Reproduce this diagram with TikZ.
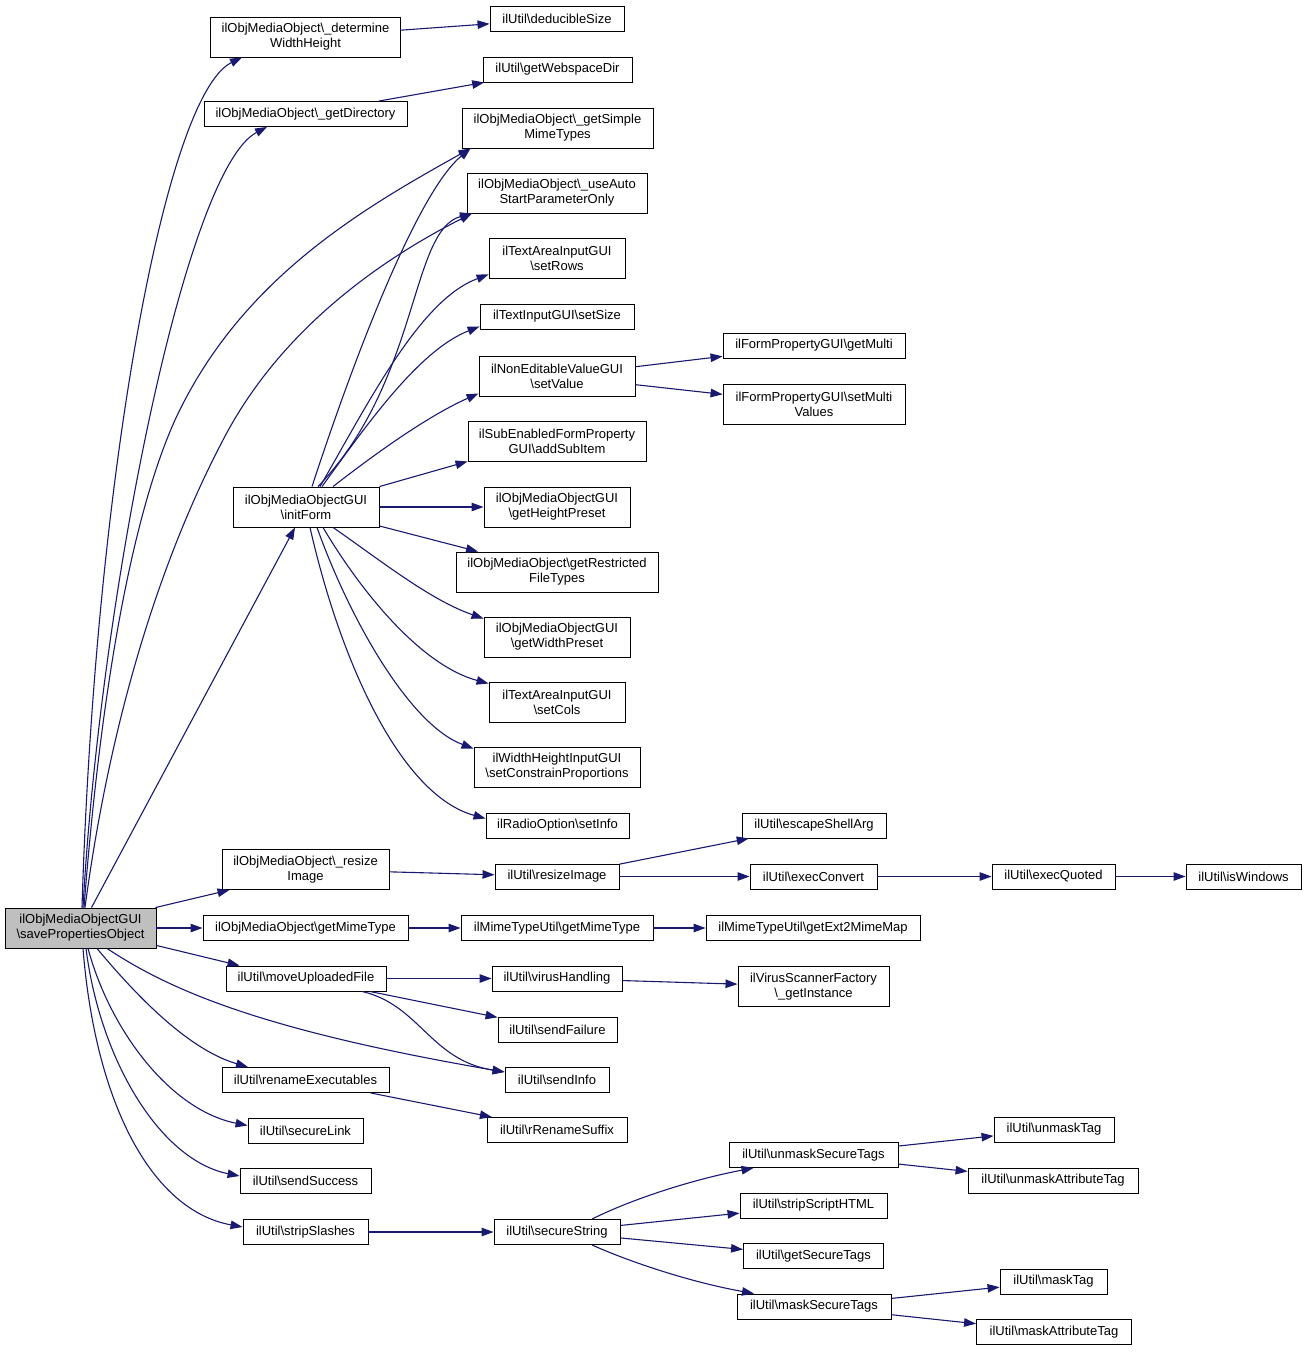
\documentclass[tikz,border=0pt]{standalone}
\usepackage{fontspec}
\setmainfont{Liberation Sans}
\usetikzlibrary{arrows.meta}

\definecolor{edgeblue}{HTML}{191970}
\definecolor{maingray}{HTML}{BFBFBF}
\newcommand{\bsl}{\textbackslash}

\tikzset{
  fn/.style={draw=black, line width=0.9pt, rectangle, align=center, inner sep=2pt,
    minimum height=25pt, font=\fontsize{13}{15}\selectfont},
  fnn/.style={fn, minimum height=40pt},
  call/.style={draw=edgeblue, line width=1.1pt, -{Triangle[length=12pt,width=8.5pt]}},
}

\begin{document}
\begin{tikzpicture}[x=1pt, y=-1pt]
  \useasboundingbox (0,0) rectangle (1308,1352);

  % caller
  \node[fnn, fill=maingray, minimum width=151pt] (save) at (80.5,928) {ilObjMediaObjectGUI\\\bsl{}savePropertiesObject};

  % first column
  \node[fnn, minimum width=190pt] (detWH) at (305.5,37) {ilObjMediaObject\bsl{}\_determine\\WidthHeight};
  \node[fn, minimum width=203pt] (getDir) at (305.5,114) {ilObjMediaObject\bsl{}\_getDirectory};
  \node[fnn, minimum width=146pt] (initForm) at (306,507) {ilObjMediaObjectGUI\\\bsl{}initForm};
  \node[fnn, minimum width=167pt] (resizeObj) at (305.5,869.5) {ilObjMediaObject\bsl{}\_resize\\Image};
  \node[fn, minimum width=205pt] (objMime) at (305.5,928) {ilObjMediaObject\bsl{}getMimeType};
  \node[fn, minimum width=160pt] (moveUp) at (306,978.5) {ilUtil\bsl{}moveUploadedFile};
  \node[fn, minimum width=167pt] (renameEx) at (305.5,1080) {ilUtil\bsl{}renameExecutables};
  \node[fn, minimum width=115pt] (secLink) at (305.5,1130.5) {ilUtil\bsl{}secureLink};
  \node[fn, minimum width=131pt] (sendSucc) at (305.5,1181) {ilUtil\bsl{}sendSuccess};
  \node[fn, minimum width=125pt] (stripSl) at (305.5,1232) {ilUtil\bsl{}stripSlashes};

  % second column
  \node[fn, minimum width=134pt] (deducible) at (557,19) {ilUtil\bsl{}deducibleSize};
  \node[fn, minimum width=149pt] (webspace) at (557.5,69.5) {ilUtil\bsl{}getWebspaceDir};
  \node[fnn, minimum width=191pt] (simpleMime) at (557.5,128) {ilObjMediaObject\bsl{}\_getSimple\\MimeTypes};
  \node[fnn, minimum width=180pt] (useAuto) at (557,193) {ilObjMediaObject\bsl{}\_useAuto\\StartParameterOnly};
  \node[fnn, minimum width=136pt] (setRows) at (557,258) {ilTextAreaInputGUI\\\bsl{}setRows};
  \node[fn, minimum width=154pt] (setSize) at (557,316.5) {ilTextInputGUI\bsl{}setSize};
  \node[fnn, minimum width=156pt] (setValue) at (557,376) {ilNonEditableValueGUI\\\bsl{}setValue};
  \node[fnn, minimum width=178pt] (addSub) at (557,441) {ilSubEnabledFormProperty\\GUI\bsl{}addSubItem};
  \node[fnn, minimum width=146pt] (heightPreset) at (557,507) {ilObjMediaObjectGUI\\\bsl{}getHeightPreset};
  \node[fnn, minimum width=202pt] (restricted) at (557,572) {ilObjMediaObject\bsl{}getRestricted\\FileTypes};
  \node[fnn, minimum width=146pt] (widthPreset) at (557,637) {ilObjMediaObjectGUI\\\bsl{}getWidthPreset};
  \node[fnn, minimum width=136pt] (setCols) at (557,702) {ilTextAreaInputGUI\\\bsl{}setCols};
  \node[fnn, minimum width=166pt] (constrain) at (557,767) {ilWidthHeightInputGUI\\\bsl{}setConstrainProportions};
  \node[fn, minimum width=143pt] (setInfo) at (557.5,825.5) {ilRadioOption\bsl{}setInfo};
  \node[fn, minimum width=124pt] (resizeImg) at (557,876.5) {ilUtil\bsl{}resizeImage};
  \node[fn, minimum width=192pt] (utilMime) at (557,928) {ilMimeTypeUtil\bsl{}getMimeType};
  \node[fn, minimum width=130pt] (virus) at (557,978.5) {ilUtil\bsl{}virusHandling};
  \node[fn, minimum width=119pt] (sendFail) at (557.5,1029.5) {ilUtil\bsl{}sendFailure};
  \node[fn, minimum width=104pt] (sendInfo) at (557,1080) {ilUtil\bsl{}sendInfo};
  \node[fn, minimum width=140pt] (rRename) at (557,1130) {ilUtil\bsl{}rRenameSuffix};
  \node[fn, minimum width=126pt] (secStr) at (557,1232) {ilUtil\bsl{}secureString};

  % third column
  \node[fn, minimum width=182pt] (getMulti) at (814,345.5) {ilFormPropertyGUI\bsl{}getMulti};
  \node[fnn, minimum width=182pt] (setMulti) at (814,404.5) {ilFormPropertyGUI\bsl{}setMulti\\Values};
  \node[fn, minimum width=144pt] (escape) at (814,825.5) {ilUtil\bsl{}escapeShellArg};
  \node[fn, minimum width=127pt] (execConv) at (813.5,876.5) {ilUtil\bsl{}execConvert};
  \node[fn, minimum width=214pt] (ext2Mime) at (813,928) {ilMimeTypeUtil\bsl{}getExt2MimeMap};
  \node[fnn, minimum width=151pt] (scanner) at (813.5,986.5) {ilVirusScannerFactory\\\bsl{}\_getInstance};
  \node[fn, minimum width=169pt] (unmaskSec) at (813.5,1155) {ilUtil\bsl{}unmaskSecureTags};
  \node[fn, minimum width=147pt] (stripHTML) at (813.5,1205.5) {ilUtil\bsl{}stripScriptHTML};
  \node[fn, minimum width=140pt] (getSec) at (813.5,1256) {ilUtil\bsl{}getSecureTags};
  \node[fn, minimum width=154pt] (maskSec) at (814,1306.5) {ilUtil\bsl{}maskSecureTags};

  % fourth and fifth column
  \node[fn, minimum width=123pt] (execQuot) at (1053.5,876.5) {ilUtil\bsl{}execQuoted};
  \node[fn, minimum width=115pt] (isWin) at (1243.5,876.5) {ilUtil\bsl{}isWindows};
  \node[fn, minimum width=120pt] (unmaskTag) at (1054,1129.5) {ilUtil\bsl{}unmaskTag};
  \node[fn, minimum width=170pt] (unmaskAttr) at (1053,1180.5) {ilUtil\bsl{}unmaskAttributeTag};
  \node[fn, minimum width=107pt] (maskTag) at (1053.5,1281.5) {ilUtil\bsl{}maskTag};
  \node[fn, minimum width=155pt] (maskAttr) at (1054,1332) {ilUtil\bsl{}maskAttributeTag};

  % calls of savePropertiesObject
  \draw[call] ([xshift=1.5pt]save.north) .. controls (95,480) and (165,95) .. ([xshift=-63.5pt]detWH.south);
  \draw[call] ([xshift=2.5pt]save.north) .. controls (100,600) and (185,170) .. ([xshift=-38.5pt]getDir.south);
  \draw[call] ([xshift=3.5pt]save.north) .. controls (100,700) and (130,520) .. (175,420)
              .. controls (240,280) and (360,210) .. ([xshift=-87pt]simpleMime.south);
  \draw[call] ([xshift=4.5pt]save.north) .. controls (110,720) and (160,560) .. (223,440)
              .. controls (280,330) and (380,260) .. ([xshift=-85pt]useAuto.south);
  \draw[call] ([xshift=11pt]save.north) -- ([xshift=-11pt]initForm.south);
  \draw[call] ([xshift=-1pt]save.north east) -- ([xshift=8pt]resizeObj.south west);
  \draw[call] (save.east) -- (objMime.west);
  \draw[call] ([yshift=3pt]save.south east) -- ([xshift=14pt]moveUp.north west);
  \draw[call] ([xshift=26.5pt]save.south) .. controls (170,990) and (260,1030) .. ([yshift=8pt]sendInfo.west);
  \draw[call] ([xshift=16.5pt]save.south) .. controls (140,1000) and (190,1050) .. ([xshift=-57.5pt]renameEx.north);
  \draw[call] ([xshift=7.5pt]save.south) .. controls (110,1030) and (170,1110) .. ([yshift=5pt]secLink.west);
  \draw[call] ([xshift=5.5pt]save.south) .. controls (100,1060) and (160,1160) .. ([yshift=5pt]sendSucc.west);
  \draw[call] ([xshift=2.5pt]save.south) .. controls (95,1100) and (150,1210) .. ([yshift=5pt]stripSl.west);

  % calls of initForm
  \draw[call] ([xshift=6pt]initForm.north) .. controls (360,340) and (420,190) .. ([xshift=-87pt]simpleMime.south);
  \draw[call] ([xshift=12pt]initForm.north) .. controls (420,380) and (410,230) .. ([xshift=-85pt]useAuto.south);
  \draw[call] ([xshift=14pt]initForm.north) .. controls (370,400) and (420,300) .. ([yshift=4pt]setRows.south west);
  \draw[call] ([xshift=16pt]initForm.north) .. controls (370,420) and (420,350) .. ([yshift=3pt]setSize.south west);
  \draw[call] ([xshift=27pt]initForm.north) .. controls (380,450) and (430,415) .. ([yshift=3pt]setValue.south west);
  \draw[call] (initForm.north east) -- (addSub.south west);
  \draw[call] (initForm.east) -- (heightPreset.west);
  \draw[call] (initForm) -- (restricted);
  \draw[call] ([xshift=27pt]initForm.south) .. controls (380,560) and (430,600) .. ([yshift=-2pt]widthPreset.north west);
  \draw[call] ([xshift=17pt]initForm.south) .. controls (360,590) and (420,665) .. ([yshift=-2pt]setCols.north west);
  \draw[call] ([xshift=11pt]initForm.south) .. controls (350,620) and (410,725) .. ([yshift=-2pt]constrain.north west);
  \draw[call] ([xshift=4pt]initForm.south) .. controls (340,660) and (400,795) .. ([yshift=7pt]setInfo.west);

  % remaining calls
  \draw[call] (detWH) -- (deducible);
  \draw[call] (getDir) -- (webspace);
  \draw[call] (setValue) -- (getMulti);
  \draw[call] (setValue) -- (setMulti);
  \draw[call] (resizeObj) -- (resizeImg);
  \draw[call] (resizeImg) -- (escape);
  \draw[call] (resizeImg) -- (execConv);
  \draw[call] (execConv) -- (execQuot);
  \draw[call] (execQuot) -- (isWin);
  \draw[call] (objMime) -- (utilMime);
  \draw[call] (utilMime) -- (ext2Mime);
  \draw[call] (moveUp) -- (virus);
  \draw[call] (virus) -- (scanner);
  \draw[call] (moveUp) -- (sendFail);
  \draw[call] ([xshift=56pt]moveUp.south) .. controls (420,1005) and (430,1060) .. ([yshift=8pt]sendInfo.west);
  \draw[call] (renameEx) -- (rRename);
  \draw[call] (stripSl) -- (secStr);
  \draw[call] ([xshift=35pt]secStr.north) .. controls (630,1200) and (690,1180) .. ([xshift=-60pt]unmaskSec.south);
  \draw[call] (secStr) -- (stripHTML);
  \draw[call] (secStr) -- (getSec);
  \draw[call] ([xshift=35pt]secStr.south) .. controls (630,1262) and (690,1282) .. ([xshift=-60pt]maskSec.north);
  \draw[call] (unmaskSec) -- (unmaskTag);
  \draw[call] (unmaskSec) -- (unmaskAttr);
  \draw[call] (maskSec) -- (maskTag);
  \draw[call] (maskSec) -- (maskAttr);
\end{tikzpicture}
\end{document}
